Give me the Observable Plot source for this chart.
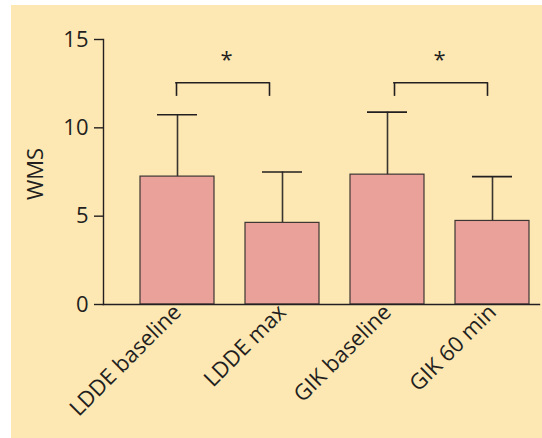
<!DOCTYPE html>
<html><head><meta charset="utf-8">
<script src="https://cdn.jsdelivr.net/npm/d3@7"></script>
<script src="https://cdn.jsdelivr.net/npm/@observablehq/plot@0.6"></script>
<style>
html,body{margin:0;padding:0;background:#fff;}
#panel{position:absolute;left:11px;top:5px;width:531px;height:433px;background:#fde8b4;}
#panel svg{display:block;}
</style></head><body><div id="panel"></div>
<script>
// ---- data ----
const categories = ["LDDE baseline", "LDDE max", "GIK baseline", "GIK 60 min"];
const means = [7.24, 4.62, 7.35, 4.73];
const sds = [3.50, 2.88, 3.54, 2.51];
const yTicks = [0, 5, 10, 15];
const yLabel = "WMS";
const sigLeft = ["LDDE baseline", "GIK baseline"];
const sigRight = ["LDDE max", "GIK 60 min"];
const sigTop = [12.55, 12.55];
const sigLeg = [11.78, 11.78];
const sigStarY = [13.85, 13.85];
const sigText = ["*", "*"];

const data = categories.map((c, i) => ({cat: c, mean: means[i], top: means[i] + sds[i]}));

const ink = "#231f20";
const barFill = "#e9a199";
const barStroke = "#3d3633";
const font = "'Open Sans', Lato, sans-serif";

// per-bracket pixel nudges (style)
const legDxL = [-1, 7], legDxR = [-13, -5], starDx = [49, 52];
const half = 37;

const bracketMarks = [];
sigLeft.forEach((l, i) => {
  const d = [{l, r: sigRight[i], top: sigTop[i], leg: sigLeg[i], star: sigStarY[i], t: sigText[i]}];
  bracketMarks.push(
    Plot.ruleX(d, {x: "l", y1: "leg", y2: "top", dx: legDxL[i], stroke: ink, strokeWidth: 1.6}),
    Plot.ruleX(d, {x: "r", y1: "leg", y2: "top", dx: legDxR[i], stroke: ink, strokeWidth: 1.6}),
    Plot.ruleY(d, {x1: "l", x2: "r", y: "top", insetLeft: half + legDxL[i] - 0.8, insetRight: half - legDxR[i] - 0.8, stroke: ink, strokeWidth: 1.6}),
    Plot.text(d, {x: "l", y: "star", text: "t", dx: starDx[i], fontSize: 22, fill: ink})
  );
});

const chart = Plot.plot({
  width: 531,
  height: 433,
  marginLeft: 92,
  marginRight: 3,
  marginTop: 34,
  marginBottom: 134,
  style: {fontFamily: font, color: ink, background: "transparent"},
  x: {domain: categories, paddingInner: 0.3, paddingOuter: 0.21, align: 0.77, label: null},
  y: {domain: [0, 15], label: null},
  marks: [
    Plot.barY(data, {x: "cat", y: "mean", fill: barFill, stroke: barStroke, strokeWidth: 1.2}),
    Plot.ruleX(data, {x: "cat", y1: "mean", y2: "top", stroke: "#3a3430", strokeWidth: 1.6}),
    Plot.tickY(data, {x: "cat", y: "top", insetLeft: 17, insetRight: 17, stroke: ink, strokeWidth: 1.6}),
    ...bracketMarks,
    Plot.frame({anchor: "left", stroke: ink, strokeWidth: 1.4}),
    Plot.frame({anchor: "bottom", stroke: ink, strokeWidth: 1.4}),
    Plot.axisY({ticks: yTicks, tickSize: 9, tickPadding: 6, fontSize: 22, fontFamily: font, label: null, stroke: ink, strokeWidth: 1.4}),
    Plot.axisX({tickSize: 0, tickRotate: -45, tickPadding: 4, fontSize: 22, fontFamily: font, label: null}),
    Plot.text([yLabel], {frameAnchor: "left", textAnchor: "middle", lineAnchor: "middle", rotate: -90, dx: -68, dy: 2, text: d => d, fontSize: 22, fontFamily: font, fill: ink})
  ]
});
document.getElementById("panel").appendChild(chart);
</script></body></html>
